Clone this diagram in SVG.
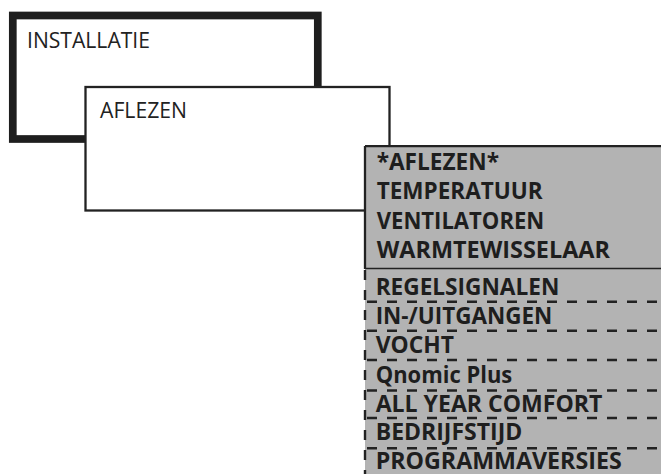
<svg xmlns="http://www.w3.org/2000/svg" width="661" height="474" viewBox="0 0 661 474">
<style>
.lt{font-family:"Open Sans","Noto Sans","Liberation Sans",sans-serif;font-weight:normal;font-size:21px;fill:#222}
.bd{font-family:"Open Sans","Noto Sans","Liberation Sans",sans-serif;font-weight:bold;font-size:23.5px;fill:#1e1e1e}
.ln{stroke:#222;fill:none}
.dash{stroke:#222;stroke-width:2.4;stroke-dasharray:10 10;fill:none}
</style>
<rect width="661" height="474" fill="#fff"/>
<g id="installatie">
<rect x="12.8" y="15.5" width="305" height="123.5" fill="#fff" stroke="#1e1e1e" stroke-width="7.7"/>
<text class="lt" x="27" y="48" textLength="123" lengthAdjust="spacingAndGlyphs">INSTALLATIE</text>
</g>
<g id="aflezen">
<rect x="85.5" y="87" width="304" height="123.5" fill="#fff" stroke="#222" stroke-width="2.3"/>
<text class="lt" x="100" y="118" textLength="87" lengthAdjust="spacingAndGlyphs">AFLEZEN</text>
</g>
<g id="menu">
<rect x="365" y="146" width="300" height="330" fill="#b3b3b3"/>
<path class="ln" d="M365 146.2H661M365 146V269" stroke-width="2.3"/>
<path class="ln" d="M365 268.5H661" stroke-width="1.4"/>
<path class="dash" d="M365 270V474" stroke-dasharray="9 9"/>
<path class="dash" d="M366 301.7H661M366 330.8H661M366 360H661M366 390.5H661M366 418H661M366 448.3H661" stroke-dashoffset="-1"/>
<text class="bd" x="376.7" y="170" textLength="122.3" lengthAdjust="spacingAndGlyphs">*AFLEZEN*</text>
<text class="bd" x="376.7" y="199.3" textLength="166" lengthAdjust="spacingAndGlyphs">TEMPERATUUR</text>
<text class="bd" x="376.7" y="228.6" textLength="167.6" lengthAdjust="spacingAndGlyphs">VENTILATOREN</text>
<text class="bd" x="376.7" y="257.9" textLength="233.3" lengthAdjust="spacingAndGlyphs">WARMTEWISSELAAR</text>
<text class="bd" x="375.7" y="295" textLength="183.6" lengthAdjust="spacingAndGlyphs">REGELSIGNALEN</text>
<text class="bd" x="375.7" y="324.3" textLength="176.6" lengthAdjust="spacingAndGlyphs">IN-/UITGANGEN</text>
<text class="bd" x="375.7" y="353.4" textLength="78.3" lengthAdjust="spacingAndGlyphs">VOCHT</text>
<text class="bd" x="375.7" y="382.7" textLength="136.6" lengthAdjust="spacingAndGlyphs">Qnomic Plus</text>
<text class="bd" x="375.7" y="411.5" textLength="226.6" lengthAdjust="spacingAndGlyphs">ALL YEAR COMFORT</text>
<text class="bd" x="375.7" y="440.3" textLength="146.6" lengthAdjust="spacingAndGlyphs">BEDRIJFSTIJD</text>
<text class="bd" x="375.7" y="469" textLength="246" lengthAdjust="spacingAndGlyphs">PROGRAMMAVERSIES</text>
</g>
</svg>
